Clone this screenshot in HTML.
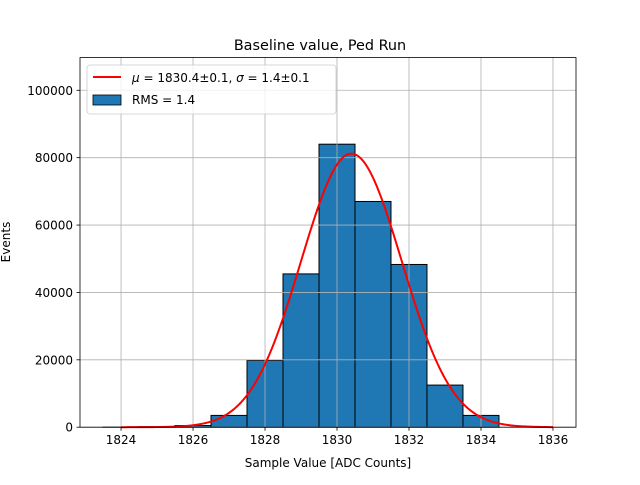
<!DOCTYPE html>
<html><head><meta charset="utf-8"><style>
body{margin:0;background:#fff}
svg text{font-family:"DejaVu Sans","Liberation Sans",sans-serif;fill:#000}
</style></head><body>
<svg id="chart" width="640" height="480" xmlns="http://www.w3.org/2000/svg">
<rect width="640" height="480" fill="#fff"/>
<g id="bars"></g>
<g id="grid"></g>
<path id="fit" fill="none" stroke="#ff0000" stroke-width="2"/>
<rect x="80" y="57.6" width="496" height="369.6" fill="none" stroke="#000" stroke-width="0.8"/>
<g id="ticks"></g>
<text x="320" y="50" font-size="14.4" text-anchor="middle">Baseline value, Ped Run</text>
<text x="328" y="467" font-size="12" text-anchor="middle">Sample Value [ADC Counts]</text>
<text x="10" y="242" font-size="12" text-anchor="middle" transform="rotate(-90 10 242)">Events</text>
<g>
<rect x="87" y="65" width="249" height="49" rx="3" fill="#fff" fill-opacity="0.8" stroke="#ccc" stroke-width="0.8"/>
<line x1="93" y1="77" x2="121" y2="77" stroke="#ff0000" stroke-width="2"/>
<text x="132" y="82" font-size="12"><tspan font-style="italic">μ</tspan> = 1830.4±0.1, <tspan font-style="italic">σ</tspan> = 1.4±0.1</text>
<rect x="93" y="95" width="28" height="10" fill="#1f77b4" stroke="#000" stroke-width="0.8"/>
<text x="132" y="104" font-size="12">RMS = 1.4</text>
</g>
</svg>
<script>
const binCenters=[1824,1825,1826,1827,1828,1829,1830,1831,1832,1833,1834];
const binCounts=[50,150,500,3500,19800,45500,84000,67000,48300,12500,3500];
const xTicks=[1824,1826,1828,1830,1832,1834,1836];
const yTicks=[0,20000,40000,60000,80000,100000];
const fitMu=1830.4, fitSigma=1.4, fitAmp=81200;
const X0=80,X1=576,Y0=427.2,Y1=57.6,xmin=1822.86,xmax=1836.64,ymin=0,ymax=109700;
const sx=v=>X0+(v-xmin)/(xmax-xmin)*(X1-X0);
const sy=v=>Y0-(v-ymin)/(ymax-ymin)*(Y0-Y1);
const NS='http://www.w3.org/2000/svg';
const mk=(t,a,p)=>{const e=document.createElementNS(NS,t);for(const k in a)e.setAttribute(k,a[k]);p.appendChild(e);return e;};
const bars=document.getElementById('bars');
binCenters.forEach((c,i)=>{
 const r=mk('rect',{x:sx(c-0.5),y:sy(binCounts[i]),width:sx(c+0.5)-sx(c-0.5),height:sy(0)-sy(binCounts[i]),fill:'#1f77b4',stroke:'#000','stroke-width':1},bars);
 
 
});
const grid=document.getElementById('grid'),ticks=document.getElementById('ticks');
xTicks.forEach(t=>{
 mk('line',{x1:sx(t),x2:sx(t),y1:Y1,y2:Y0,stroke:'#b0b0b0','stroke-width':0.8},grid);
 mk('line',{x1:sx(t),x2:sx(t),y1:Y0,y2:Y0+3.5,stroke:'#000','stroke-width':0.8},ticks);
 const tx=mk('text',{x:sx(t),y:Y0+17,'font-size':12,'text-anchor':'middle'},ticks);tx.textContent=t;
 
 
});
yTicks.forEach(t=>{
 mk('line',{x1:X0,x2:X1,y1:sy(t),y2:sy(t),stroke:'#b0b0b0','stroke-width':0.8},grid);
 mk('line',{x1:X0-3.5,x2:X0,y1:sy(t),y2:sy(t),stroke:'#000','stroke-width':0.8},ticks);
 const tx=mk('text',{x:X0-7,y:sy(t)+4.5,'font-size':12,'text-anchor':'end'},ticks);tx.textContent=t;
 
 
});
let d='';
for(let i=0;i<=240;i++){const v=1824+12*i/240;const y=fitAmp*Math.exp(-0.5*((v-fitMu)/fitSigma)**2);d+=(i?'L':'M')+sx(v).toFixed(2)+','+sy(y).toFixed(2);}
document.getElementById('fit').setAttribute('d',d);
</script>
</body></html>
